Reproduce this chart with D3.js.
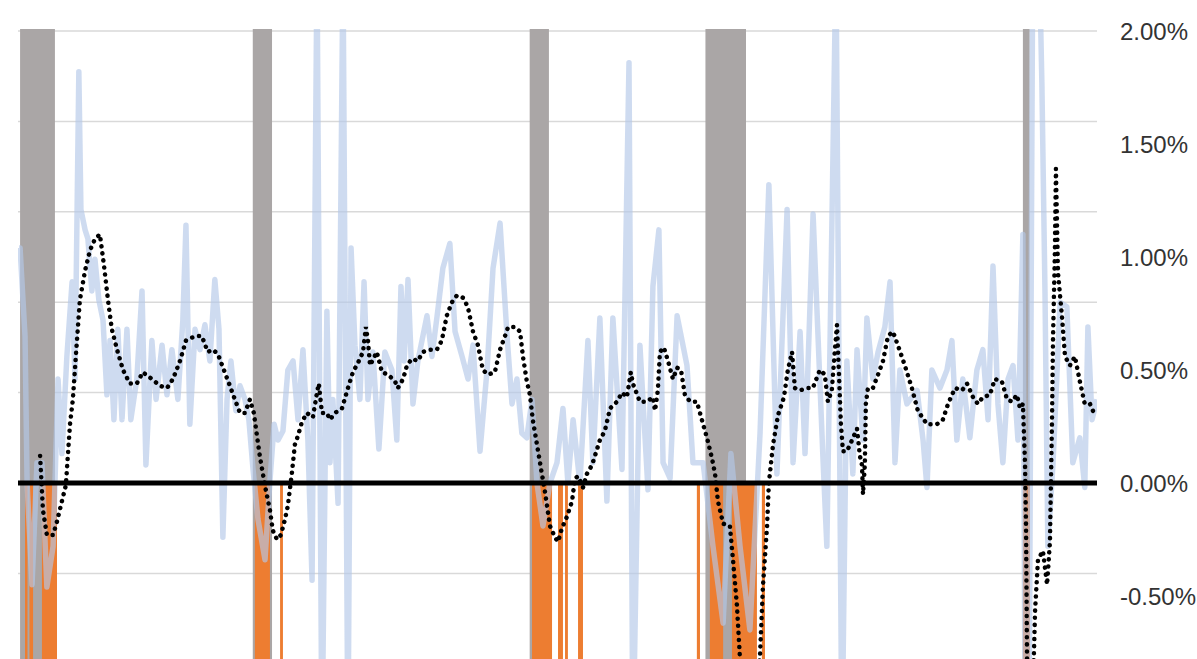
<!DOCTYPE html>
<html><head><meta charset="utf-8">
<script src="https://cdn.jsdelivr.net/npm/d3@7/dist/d3.min.js"></script>
<style>body{margin:0;background:#fff}svg{display:block}</style>
</head><body>
<svg id="c" width="1197" height="659"></svg>
<script>
const tickValues=[-0.5,0,0.5,1,1.5,2.0];
const gridValues=[-0.4,0,0.4,0.8,1.2,1.6,2.0];
const recessions=[[1981.5,1982.84],[1990.45,1991.19],[2001.1,2001.84],[2007.86,2009.42],[2020.07,2020.33]];
const negRanges=[[1981.69,1981.78],[1981.86,1982.0],[1982.34,1982.92],[1990.53,1991.11],[1991.5,1991.61],[2001.19,2001.96],[2002.19,2002.38],[2002.46,2002.57],[2002.96,2003.15],[2007.53,2007.65],[2008.03,2008.54],[2008.88,2009.84],[2010.03,2010.15],[2020.07,2020.34]];
const negDepth=-1.2;
const blueDates=[1981.46,1981.5,1981.69,1981.77,1981.96,1982.15,1982.34,1982.53,1982.77,1982.96,1983.11,1983.3,1983.5,1983.61,1983.76,1983.84,1984.0,1984.11,1984.26,1984.38,1984.53,1984.69,1984.84,1984.96,1985.11,1985.26,1985.42,1985.61,1985.76,1985.99,1986.19,1986.34,1986.57,1986.73,1986.96,1987.15,1987.34,1987.57,1987.76,1987.88,1988.03,1988.23,1988.42,1988.61,1988.8,1988.99,1989.15,1989.3,1989.46,1989.61,1989.8,1989.96,1990.15,1990.3,1990.46,1990.65,1990.92,1991.11,1991.27,1991.42,1991.61,1991.8,1992.0,1992.19,1992.38,1992.57,1992.73,1992.92,1993.11,1993.3,1993.42,1993.53,1993.73,1993.92,1994.11,1994.23,1994.38,1994.57,1994.73,1994.88,1995.07,1995.3,1995.53,1995.8,1995.99,1996.15,1996.27,1996.42,1996.61,1996.8,1997.15,1997.34,1997.53,1997.76,1998.03,1998.23,1998.5,1998.73,1998.92,1999.19,1999.46,1999.69,1999.96,2000.23,2000.42,2000.61,2000.8,2000.99,2001.19,2001.38,2001.61,2001.88,2002.15,2002.38,2002.57,2002.77,2003.03,2003.34,2003.53,2003.8,2004.07,2004.3,2004.65,2004.92,2005.07,2005.34,2005.65,2005.84,2006.07,2006.23,2006.5,2006.77,2007.15,2007.38,2007.77,2008.15,2008.54,2008.84,2009.19,2009.57,2009.96,2010.3,2010.61,2011.0,2011.23,2011.5,2011.69,2012.0,2012.38,2012.53,2012.88,2013.11,2013.3,2013.53,2013.69,2013.92,2014.07,2014.3,2014.5,2014.76,2014.96,2015.15,2015.34,2015.61,2016.0,2016.23,2016.38,2016.57,2016.88,2017.15,2017.34,2017.53,2017.76,2018.03,2018.3,2018.53,2018.73,2018.92,2019.11,2019.3,2019.5,2019.69,2019.88,2020.07,2020.23,2020.46,2020.65,2020.8,2020.92,2021.03,2021.23,2021.5,2021.76,2021.99,2022.26,2022.45,2022.57,2022.73,2022.92];
const blueValues=[1.04,1.04,0.65,0.00,-0.45,0.09,0.09,-0.46,-0.28,0.46,0.13,0.56,0.89,0.46,1.82,1.21,1.12,1.08,0.85,0.99,0.81,0.72,0.39,0.63,0.28,0.68,0.28,0.68,0.28,0.46,0.85,0.08,0.63,0.37,0.61,0.39,0.59,0.37,0.72,1.14,0.26,0.68,0.59,0.70,0.54,0.90,0.68,-0.24,0.37,0.54,0.32,0.43,0.37,0.28,0.06,-0.16,-0.34,0.01,0.26,0.19,0.23,0.50,0.54,0.28,0.59,0.19,-0.43,2.3,-1.2,0.76,0.09,0.37,-0.09,2.3,-1.2,1.04,0.61,0.37,0.89,0.37,0.58,0.15,0.58,0.50,0.19,0.87,0.54,0.90,0.35,0.54,0.74,0.56,0.73,0.95,1.06,0.67,0.56,0.46,0.61,0.14,0.50,0.95,1.15,0.65,0.35,0.46,0.22,0.20,0.37,0.00,-0.19,0.00,0.09,0.33,0.00,0.28,0.00,0.63,0.09,0.73,-0.08,0.73,0.06,1.86,-1.2,0.61,-0.03,0.87,1.12,0.09,0.02,0.74,0.52,0.09,0.09,-0.28,-0.62,0.13,-0.28,-0.65,0.22,1.32,0.04,1.21,0.09,0.67,0.13,1.19,0.11,-0.28,2.3,-1.2,0.54,0.04,0.59,0.19,0.73,0.46,0.58,0.69,0.89,0.09,0.50,0.35,0.41,0.19,-0.02,0.50,0.42,0.50,0.63,0.19,0.46,0.20,0.50,0.59,0.28,0.96,0.35,0.09,0.46,0.52,0.19,1.10,-3.0,2.6,2.6,1.77,0.84,-0.28,0.09,0.80,0.78,0.09,0.20,-0.02,0.69,0.28,0.37];
const trendDates=[1982.27,1982.38,1982.53,1982.77,1982.92,1983.11,1983.26,1983.42,1983.53,1983.65,1983.8,1984.0,1984.19,1984.38,1984.57,1984.73,1984.88,1985.03,1985.23,1985.46,1985.72,1985.99,1986.22,1986.57,1986.88,1987.15,1987.38,1987.65,1987.88,1988.23,1988.49,1988.72,1988.92,1989.11,1989.34,1989.57,1989.76,1989.96,1990.15,1990.34,1990.49,1990.61,1990.72,1990.84,1990.95,1991.11,1991.22,1991.38,1991.53,1991.69,1991.8,1991.95,1992.07,1992.19,1992.34,1992.53,1992.76,1992.92,1992.99,1993.11,1993.3,1993.42,1993.61,1993.88,1994.11,1994.3,1994.49,1994.69,1994.8,1994.88,1994.96,1995.22,1995.42,1995.65,1995.92,1996.03,1996.23,1996.38,1996.57,1996.8,1996.99,1997.26,1997.53,1997.72,1997.91,1998.11,1998.3,1998.53,1998.72,1998.92,1999.11,1999.3,1999.5,1999.76,1999.96,2000.15,2000.27,2000.53,2000.73,2000.84,2000.99,2001.11,2001.22,2001.38,2001.57,2001.69,2001.88,2002.07,2002.19,2002.34,2002.53,2002.73,2002.84,2002.96,2003.15,2003.3,2003.5,2003.8,2003.99,2004.19,2004.46,2004.65,2004.84,2004.99,2005.07,2005.34,2005.61,2005.84,2005.92,2006.03,2006.11,2006.26,2006.42,2006.61,2006.77,2006.92,2007.07,2007.27,2007.53,2007.77,2007.92,2008.11,2008.23,2008.34,2008.54,2008.8,2008.92,2009.07,2009.19,2009.38,2009.76,2009.96,2010.07,2010.23,2010.3,2010.46,2010.65,2010.88,2011.03,2011.19,2011.3,2011.5,2011.76,2011.99,2012.26,2012.45,2012.57,2012.72,2012.84,2012.92,2012.99,2013.07,2013.15,2013.3,2013.5,2013.69,2013.8,2013.88,2013.92,2013.99,2014.03,2014.11,2014.3,2014.5,2014.69,2014.88,2015.07,2015.26,2015.53,2015.8,2016.03,2016.38,2016.76,2016.99,2017.19,2017.46,2017.73,2017.92,2018.15,2018.34,2018.53,2018.8,2018.99,2019.26,2019.46,2019.65,2019.84,2019.96,2020.07,2020.15,2020.19,2020.23,2020.34,2020.46,2020.54,2020.65,2020.84,2021.0,2021.11,2021.19,2021.23,2021.3,2021.34,2021.42,2021.57,2021.69,2021.88,2022.07,2022.26,2022.45,2022.65,2022.8];
const trendValues=[0.12,-0.12,-0.23,-0.23,-0.17,-0.08,-0.01,0.26,0.37,0.57,0.81,0.94,1.03,1.08,1.10,0.96,0.81,0.68,0.59,0.50,0.44,0.44,0.49,0.46,0.43,0.42,0.46,0.54,0.63,0.65,0.65,0.58,0.59,0.57,0.50,0.43,0.37,0.31,0.31,0.37,0.31,0.21,0.12,0.04,-0.03,-0.12,-0.21,-0.25,-0.23,-0.16,-0.10,0.04,0.17,0.21,0.27,0.31,0.29,0.40,0.44,0.31,0.31,0.28,0.31,0.33,0.42,0.49,0.53,0.58,0.69,0.63,0.52,0.58,0.49,0.48,0.45,0.42,0.46,0.52,0.55,0.54,0.58,0.59,0.59,0.63,0.74,0.80,0.83,0.82,0.78,0.67,0.61,0.50,0.48,0.49,0.59,0.65,0.69,0.69,0.67,0.56,0.45,0.39,0.28,0.17,0.04,-0.04,-0.19,-0.24,-0.26,-0.20,-0.15,-0.08,0.02,0.03,-0.02,0.04,0.08,0.19,0.23,0.33,0.36,0.40,0.38,0.49,0.44,0.36,0.36,0.38,0.32,0.41,0.58,0.60,0.54,0.46,0.51,0.50,0.39,0.36,0.36,0.26,0.20,0.11,0.04,-0.08,-0.18,-0.19,-0.34,-0.54,-0.78,-1.0,-1.0,-0.76,-0.46,-0.19,0.00,0.17,0.30,0.38,0.50,0.58,0.42,0.41,0.42,0.42,0.50,0.48,0.36,0.41,0.59,0.70,0.50,0.26,0.14,0.14,0.19,0.24,0.12,0.08,-0.05,0.08,0.35,0.42,0.42,0.48,0.54,0.65,0.67,0.61,0.52,0.42,0.32,0.26,0.26,0.28,0.35,0.42,0.41,0.44,0.38,0.35,0.38,0.39,0.46,0.45,0.37,0.36,0.39,0.33,0.35,0.09,-0.19,-0.78,-1.0,-0.9,-0.56,-0.34,-0.30,-0.45,-0.26,0.28,0.65,1.02,1.39,0.93,0.74,0.56,0.52,0.56,0.45,0.35,0.35,0.31];

const svg=d3.select("#c");
const L=18,R=1097,T=29,B=659;
const x=d3.scaleLinear().domain([1981.42,2022.92]).range([L,R]);
const y=d3.scaleLinear().domain([0,2]).range([483,31]);
svg.append("defs").append("clipPath").attr("id","clip").append("rect").attr("x",L).attr("y",T).attr("width",R-L).attr("height",B-T);
const g=svg.append("g").attr("clip-path","url(#clip)");
g.selectAll(".grid").data(gridValues).enter().append("line")
 .attr("x1",L).attr("x2",R).attr("y1",d=>y(d)).attr("y2",d=>y(d)).attr("stroke","#d9d9d9").attr("stroke-width",1.5);
g.selectAll(".rec").data(recessions).enter().append("rect")
 .attr("x",d=>x(d[0])).attr("width",d=>x(d[1])-x(d[0])).attr("y",T).attr("height",B-T).attr("fill","#aaa6a6");
g.selectAll(".neg").data(negRanges).enter().append("rect")
 .attr("x",d=>x(d[0])).attr("width",d=>Math.max(2.5,x(d[1])-x(d[0]))).attr("y",y(0)).attr("height",y(negDepth)-y(0)).attr("fill","#ed7d31");
const blue=blueDates.map((d,i)=>[d,blueValues[i]]);
g.append("path").datum(blue).attr("d",d3.line().x(d=>x(d[0])).y(d=>y(d[1])))
 .attr("fill","none").attr("stroke","#b4c8e8").attr("stroke-opacity",0.65).attr("stroke-width",5.5).attr("stroke-linejoin","round");
g.append("line").attr("x1",L).attr("x2",R).attr("y1",y(0)).attr("y2",y(0)).attr("stroke","#000").attr("stroke-width",5);
const trend=trendDates.map((d,i)=>[d,trendValues[i]]);
g.append("path").datum(trend).attr("d",d3.line().x(d=>x(d[0])).y(d=>y(d[1])))
 .attr("fill","none").attr("stroke","#000").attr("stroke-width",4.5).attr("stroke-linecap","round").attr("stroke-dasharray","0.1,7");
const ax=svg.append("g").attr("transform",`translate(${R+20},0)`)
 .call(d3.axisRight(y).tickValues(tickValues).tickSize(0).tickFormat(d=>d.toFixed(2)+"%"));
ax.select(".domain").remove();
ax.selectAll("text").attr("font-family","'Liberation Sans Narrow','Liberation Sans',sans-serif").attr("font-size",24).attr("fill","#333").attr("dy","0.35em");
</script>
</body></html>
